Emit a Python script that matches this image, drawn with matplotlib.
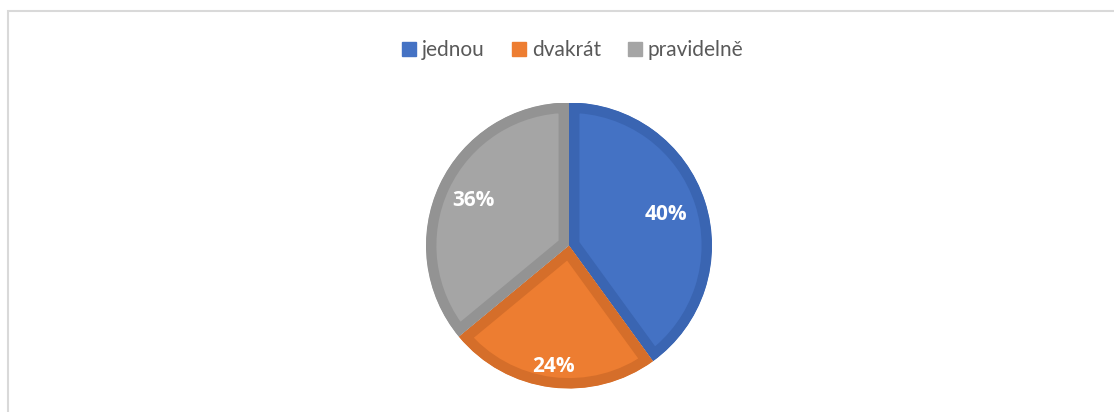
import numpy as np
import matplotlib.pyplot as plt
from matplotlib.patches import Rectangle, Patch, Wedge

# data
labels = ['jednou', 'dvakrát', 'pravidelně']
shares = [40, 24, 36]
colors = ['#4472C4', '#ED7D31', '#A5A5A5']
edge_colors = ['#3A65B2', '#D56E2A', '#939393']
label_dist = [0.71, 0.85, 0.74]

W, H = 1114, 412
fig = plt.figure(figsize=(W / 100, H / 100), dpi=100)

# chart area frame (only top and left edges visible)
fig.patches.append(Rectangle((8 / W, -0.1), 1.2, (H - 11) / H + 0.1,
                             transform=fig.transFigure, fill=False,
                             edgecolor='#D9D9D9', linewidth=1.5))

# pie axes: centre (569, 245.5), radius 143 px
r = 143
cx, cy = 569, H - 245.5
ax = fig.add_axes([(cx - r) / W, (cy - r) / H, 2 * r / W, 2 * r / H])
wedges, _, autotexts = ax.pie(shares, colors=colors, startangle=90,
                              counterclock=False, radius=1,
                              autopct='%1.0f%%', pctdistance=0.75,
                              wedgeprops=dict(linewidth=0))
ax.set_xlim(-1, 1)
ax.set_ylim(-1, 1)
ax.set_aspect('equal')

# darker inner border band on each slice (stroke clipped to the slice)
for w, ec in zip(wedges, edge_colors):
    clip = Wedge(w.center, w.r, w.theta1, w.theta2, transform=ax.transData)
    w.set_edgecolor(ec)
    w.set_linewidth(15)
    w.set_clip_on(True)
    w.set_clip_path(clip)

# percentage labels
for w, t, d in zip(wedges, autotexts, label_dist):
    mid = np.deg2rad((w.theta1 + w.theta2) / 2)
    t.set_position((d * np.cos(mid), d * np.sin(mid)))
    t.set_color('white')
    t.set_fontsize(15)
    t.set_fontweight('bold')
    t.set_fontfamily('Open Sans')

# legend
handles = [Patch(facecolor=c, edgecolor=c) for c in colors]
fig.legend(handles, labels, loc='center', bbox_to_anchor=(573 / W, 1 - 50 / H),
           ncol=3, frameon=False, handlelength=0.65, handleheight=0.65,
           handletextpad=0.3, columnspacing=1.3,
           prop={'family': 'Lato', 'size': 15}, labelcolor='#595959')

fig.savefig('out.png', dpi=100)
